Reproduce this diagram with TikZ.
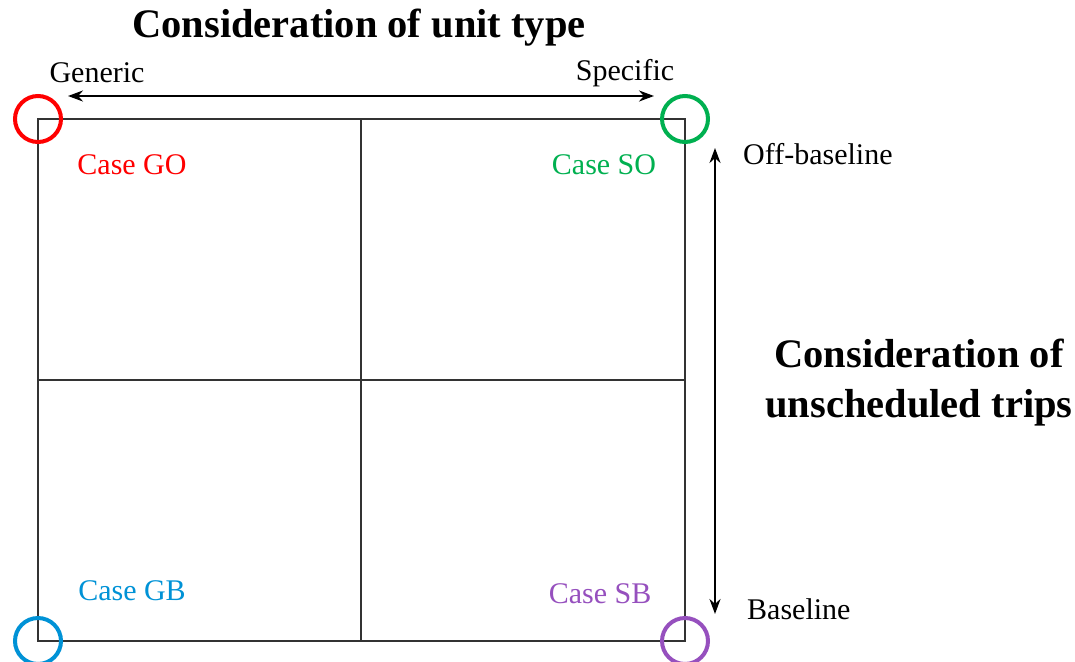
\documentclass[tikz,border=0pt]{standalone}
\usepackage{fontspec}
\setmainfont{Liberation Serif}
\usetikzlibrary{arrows.meta}
\definecolor{cgo}{RGB}{255,0,0}
\definecolor{cso}{RGB}{0,176,80}
\definecolor{cgb}{RGB}{0,146,214}
\definecolor{csb}{RGB}{150,80,190}
\tikzset{
  grid/.style={draw=black!80, line width=1.3pt},
  ring/.style={circle, draw=#1, line width=4pt, minimum size=46pt, inner sep=0pt},
  casetext/.style={text=#1, font=\fontsize{30}{36}\selectfont, inner sep=0pt},
  small/.style={font=\fontsize{30}{34}\selectfont, inner sep=0pt},
  big/.style={font=\fontsize{40.5}{50}\selectfont\bfseries, inner sep=0pt, align=center},
  axis/.style={line width=2.2pt, {Stealth[length=15pt,width=11pt]}-{Stealth[length=15pt,width=11pt]}}
}
\begin{document}
\begin{tikzpicture}[x=1pt,y=-1pt]
\useasboundingbox (0,0) rectangle (1075,661);
\coordinate (tl) at (38,119);
\coordinate (tr) at (685,119);
\coordinate (bl) at (38,641);
\coordinate (br) at (685,641);
\coordinate (mt) at (361,119);
\coordinate (mb) at (361,641);
\coordinate (ml) at (38,380);
\coordinate (mr) at (685,380);
\draw[grid] (tl) rectangle (br);
\draw[grid] (mt) -- (mb);
\draw[grid] (ml) -- (mr);
\node[ring=cgo] (rgo) at (tl) {};
\node[ring=cso] (rso) at (tr) {};
\node[ring=cgb] (rgb) at (bl) {};
\node[ring=csb] (rsb) at (br) {};
\node[big] (title) at (359,28) {Consideration of unit type};
\node[small] (gen) at (97,73) {Generic};
\node[small] (spec) at (625,73) {Specific};
\coordinate (ha) at (68,96);
\coordinate (hb) at (654,96);
\draw[axis] (ha) -- (hb);
\coordinate (va) at (715,148);
\coordinate (vb) at (715,614);
\draw[axis] (va) -- (vb);
\node[small, anchor=west] (off) at (743,154) {Off-baseline};
\node[small, anchor=west] (base) at (747,609) {Baseline};
\node[big] (uns) at (919,383) {Consideration of\\unscheduled trips};
\node[casetext=cgo] (go) at (132,165) {Case GO};
\node[casetext=cso] (so) at (604,165) {Case SO};
\node[casetext=cgb] (gb) at (132,591) {Case GB};
\node[casetext=csb] (sb) at (600,594) {Case SB};
\end{tikzpicture}
\end{document}
